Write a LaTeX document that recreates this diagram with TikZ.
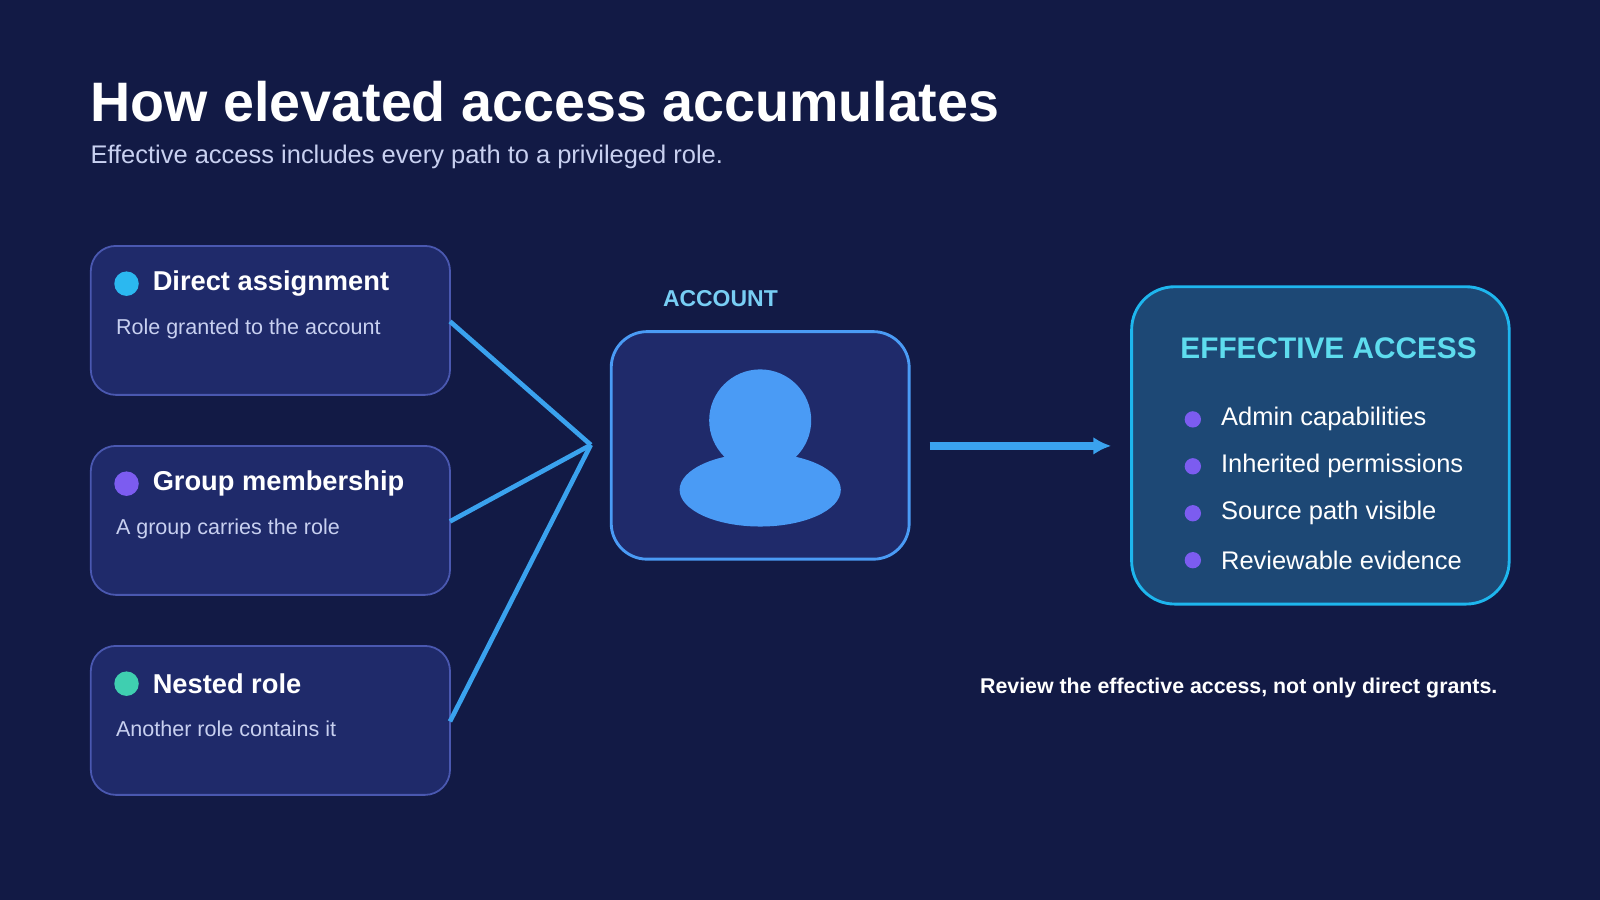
\documentclass[tikz,border=0pt]{standalone}
\usepackage{fontspec}
\setmainfont{Liberation Sans}
\usetikzlibrary{arrows.meta}
\definecolor{bg}{HTML}{121A45}
\definecolor{boxf}{HTML}{1F2A6A}
\definecolor{boxd}{HTML}{4A58B0}
\definecolor{acc}{HTML}{4A9BF5}
\definecolor{line}{HTML}{3AA2EE}
\definecolor{efff}{HTML}{1D4875}
\definecolor{effd}{HTML}{1EB6EE}
\definecolor{cyan}{HTML}{5EDCEE}
\definecolor{purp}{HTML}{7C5CF0}
\definecolor{sub}{HTML}{C8D0F0}
\begin{document}
\begin{tikzpicture}[x=0.01cm,y=-0.01cm,
  src/.style={draw=boxd,fill=boxf,line width=0.5pt,rounded corners=7pt},
  ttl/.style={anchor=west,inner sep=0,text=white,font=\bfseries\fontsize{7.6}{9}\selectfont},
  dsc/.style={anchor=west,inner sep=0,text=sub,font=\fontsize{6}{7}\selectfont},
  bul/.style={anchor=west,inner sep=0,text=white,font=\fontsize{7.1}{8}\selectfont},
  conn/.style={draw=line,line width=1.3pt}]
\fill[bg] (0,0) rectangle (1568,882);
\node[anchor=base west,text=white,font=\bfseries\fontsize{15.5}{19}\selectfont,inner sep=0] (title) at (88,119) {How elevated access accumulates};
\node[anchor=base west,text=sub,font=\fontsize{7.1}{9}\selectfont,inner sep=0] (subt) at (88,160) {Effective access includes every path to a privileged role.};
% source boxes
\foreach \n/\y/\c/\t/\d in {a/241/2BB8F0/Direct assignment/Role granted to the account,
  b/437/7C5CF0/Group membership/A group carries the role,
  c/633/3FCFB0/Nested role/Another role contains it}{
  \path[src] (89,\y) rectangle (441,\y+146);
  \definecolor{dotc}{HTML}{\c}
  \fill[dotc] (124,\y+37) circle (12);
  \node[ttl] at (149,\y+37) {\t};
  \node[dsc] at (113,\y+81) {\d};
  \coordinate (\n) at (441,\y+74);
}
\coordinate (hub) at (579,436);
\draw[conn] (a) -- (hub);
\draw[conn] (b) -- (hub);
\draw[conn] (c) -- (hub);
% account
\node[text=cyan!60!acc!80!white,font=\bfseries\fontsize{6.4}{8}\selectfont] (acl) at (706,293) {ACCOUNT};
\path[draw=acc,fill=boxf,line width=0.8pt,rounded corners=10pt] (599,325) rectangle (891,548);
\fill[acc] (745,480) ellipse (79 and 36);
\fill[acc] (745,412) circle (50);
\coordinate (aout) at (911,437);
\coordinate (ein) at (1089,437);
\draw[conn,line width=2pt,-{Latex[length=5pt,width=5pt]}] (aout) -- (ein);
% effective
\path[draw=effd,fill=efff,line width=0.8pt,rounded corners=12pt] (1109,281) rectangle (1479,592);
\node[text=cyan,font=\bfseries\fontsize{8.3}{10}\selectfont] (eff) at (1302,341) {EFFECTIVE ACCESS};
\foreach \y/\t in {411/Admin capabilities,457/Inherited permissions,503/Source path visible,549/Reviewable evidence}{
  \fill[purp] (1169,\y) circle (8);
  \node[bul] at (1196,\y) {\t};
}
\node[text=white,font=\bfseries\fontsize{5.95}{7}\selectfont] (foot) at (1214,674) {Review the effective access, not only direct grants.};
\end{tikzpicture}
\end{document}
